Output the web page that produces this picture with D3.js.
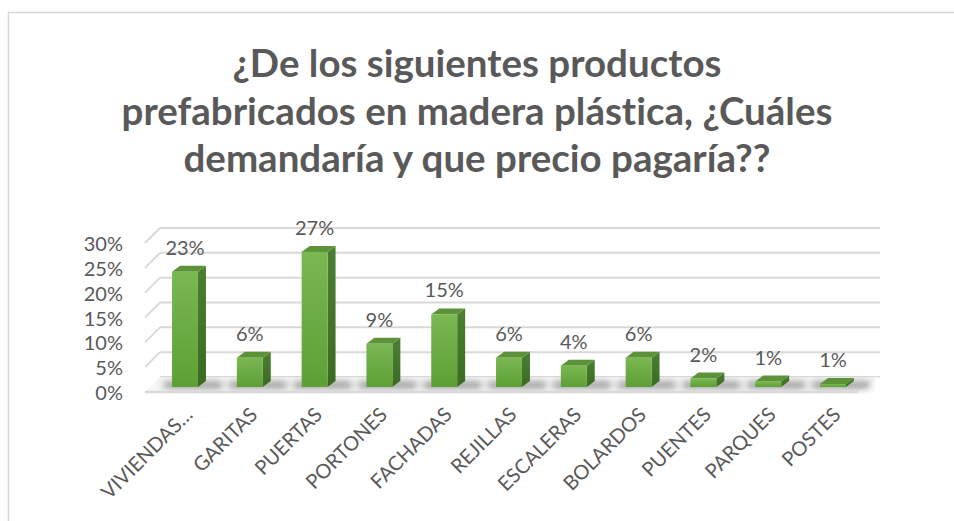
<!DOCTYPE html>
<html>
<head>
<meta charset="utf-8">
<script src="https://cdn.jsdelivr.net/npm/d3@7"></script>
<style>
  body { margin: 0; background: #fff; }
  svg { display: block; font-family: Lato, "Open Sans", sans-serif; font-variant-ligatures: none; }
</style>
</head>
<body>
<div id="chart"></div>
<script>
const width = 954;
const height = 521;

const titleLines = [
  "¿De los siguientes productos",
  "prefabricados en madera plástica, ¿Cuáles",
  "demandaría y que precio pagaría??"
];
const categories = ["VIVIENDAS…", "GARITAS", "PUERTAS", "PORTONES", "FACHADAS",
  "REJILLAS", "ESCALERAS", "BOLARDOS", "PUENTES", "PARQUES", "POSTES"];
const values = [0.232, 0.059, 0.272, 0.087, 0.146, 0.059, 0.043, 0.059, 0.017, 0.011, 0.006];
const yTicks = [0, 0.05, 0.10, 0.15, 0.20, 0.25, 0.30];

const textColor = "#595959";
const gridColor = "#d9d9d9";

// 3d box depth
const depth = { dx: 8, dy: -6 };
// back wall / front floor offsets relative to the bar front plane
const back = { x0: 160, x1: 880, dy: -10 };
const front = { x0: 145, x1: 858, dy: 5 };

const xScale = d3.scaleBand()
  .domain(categories)
  .range([152.6, 865.4]);

const yScale = d3.scaleLinear()
  .domain([0, 0.30])
  .range([387, 238]);

const fmt = d3.format(".0%");
const barWidth = xScale.bandwidth() * 0.4;

const svg = d3.select("#chart")
  .append("svg")
    .attr("width", width)
    .attr("height", height)
    .attr("viewBox", [0, 0, width, height]);

const defs = svg.append("defs");
const frontGrad = defs.append("linearGradient")
  .attr("id", "frontGrad")
  .attr("x1", 0).attr("y1", 0).attr("x2", 0).attr("y2", 1);
frontGrad.append("stop").attr("offset", "0%").attr("stop-color", "#7ab852");
frontGrad.append("stop").attr("offset", "100%").attr("stop-color", "#5e9f35");

const sideGrad = defs.append("linearGradient")
  .attr("id", "sideGrad")
  .attr("x1", 0).attr("y1", 0).attr("x2", 0).attr("y2", 1);
sideGrad.append("stop").attr("offset", "0%").attr("stop-color", "#4c7f32");
sideGrad.append("stop").attr("offset", "100%").attr("stop-color", "#3a6a22");

defs.append("filter")
  .attr("id", "blur")
  .attr("x", "-50%").attr("y", "-100%").attr("width", "200%").attr("height", "300%")
  .append("feGaussianBlur")
    .attr("stdDeviation", 3.5);

// chart border
svg.append("rect")
  .attr("x", 8.5)
  .attr("y", 12.5)
  .attr("width", 960)
  .attr("height", 540)
  .attr("fill", "none")
  .attr("stroke", gridColor)
  .attr("stroke-width", 1.5);

// title
svg.append("g")
  .selectAll("text")
  .data(titleLines)
  .join("text")
    .attr("x", 477)
    .attr("y", (d, i) => 77 + i * 47.5)
    .attr("text-anchor", "middle")
    .attr("fill", textColor)
    .attr("font-size", 38.5)
    .attr("font-weight", "bold")
    .text(d => d);

const inner = svg.append("g");

// back wall gridlines
inner.append("g")
  .selectAll("line")
  .data(yTicks)
  .join("line")
    .attr("x1", back.x0)
    .attr("x2", back.x1)
    .attr("y1", d => yScale(d) + back.dy)
    .attr("y2", d => yScale(d) + back.dy)
    .attr("stroke", gridColor)
    .attr("stroke-width", 2);

// side wall diagonals
inner.append("g")
  .selectAll("line")
  .data(yTicks.filter(d => d > 0))
  .join("line")
    .attr("x1", front.x0)
    .attr("x2", back.x0)
    .attr("y1", d => yScale(d) + front.dy)
    .attr("y2", d => yScale(d) + back.dy)
    .attr("stroke", gridColor)
    .attr("stroke-width", 2);

// floor
const y0 = yScale(0);
inner.append("path")
  .attr("d", `M${front.x0},${y0 + front.dy} L${back.x0},${y0 + back.dy} L${back.x1},${y0 + back.dy} L${front.x1},${y0 + front.dy} Z`)
  .attr("fill", "#f6f6f6");

// bar shadows on the floor
inner.append("g")
  .attr("filter", "url(#blur)")
  .selectAll("rect")
  .data(categories)
  .join("rect")
    .attr("x", d => xScale(d) + xScale.bandwidth() / 2 - barWidth / 2 - 8)
    .attr("y", y0 - 5)
    .attr("width", barWidth + 32)
    .attr("height", 6)
    .attr("fill", "#444")
    .attr("opacity", 0.6);

inner.append("line")
  .attr("x1", front.x0)
  .attr("x2", front.x1)
  .attr("y1", y0 + front.dy)
  .attr("y2", y0 + front.dy)
  .attr("stroke", gridColor)
  .attr("stroke-width", 2.5);

// y axis labels
inner.append("g")
  .selectAll("text")
  .data(yTicks)
  .join("text")
    .attr("x", 123)
    .attr("y", d => yScale(d) + 6)
    .attr("dy", "0.35em")
    .attr("text-anchor", "end")
    .attr("fill", textColor)
    .attr("font-size", 20)
    .text(d => fmt(d));

// 3d bars
const bars = inner.append("g")
  .selectAll("g")
  .data(categories.map((c, i) => ({ cat: c, value: values[i] })))
  .join("g")
    .attr("transform", d => `translate(${xScale(d.cat) + xScale.bandwidth() / 2 - barWidth / 2}, 0)`);

bars.append("path")
  .attr("d", d => {
    const t = yScale(d.value);
    return `M${barWidth},${t} L${barWidth + depth.dx},${t + depth.dy} L${barWidth + depth.dx},${y0 + depth.dy} L${barWidth},${y0} Z`;
  })
  .attr("fill", "url(#sideGrad)");

bars.append("path")
  .attr("d", d => {
    const t = yScale(d.value);
    return `M0,${t} L${depth.dx},${t + depth.dy} L${barWidth + depth.dx},${t + depth.dy} L${barWidth},${t} Z`;
  })
  .attr("fill", "#5c9339");

bars.append("rect")
  .attr("x", 0)
  .attr("y", d => yScale(d.value))
  .attr("width", barWidth)
  .attr("height", d => y0 - yScale(d.value))
  .attr("fill", "url(#frontGrad)");

// data labels
bars.append("text")
  .attr("x", barWidth / 2)
  .attr("y", d => yScale(d.value) - 17)
  .attr("text-anchor", "middle")
  .attr("fill", textColor)
  .attr("font-size", 20)
  .text(d => fmt(d.value));

// category labels
inner.append("g")
  .selectAll("text")
  .data(categories)
  .join("text")
    .attr("transform", d => `translate(${xScale(d) + xScale.bandwidth() / 2 + 4}, 411) rotate(-45)`)
    .attr("text-anchor", "end")
    .attr("dy", "0.35em")
    .attr("fill", textColor)
    .attr("font-size", 20)
    .text(d => d);
</script>
</body>
</html>
